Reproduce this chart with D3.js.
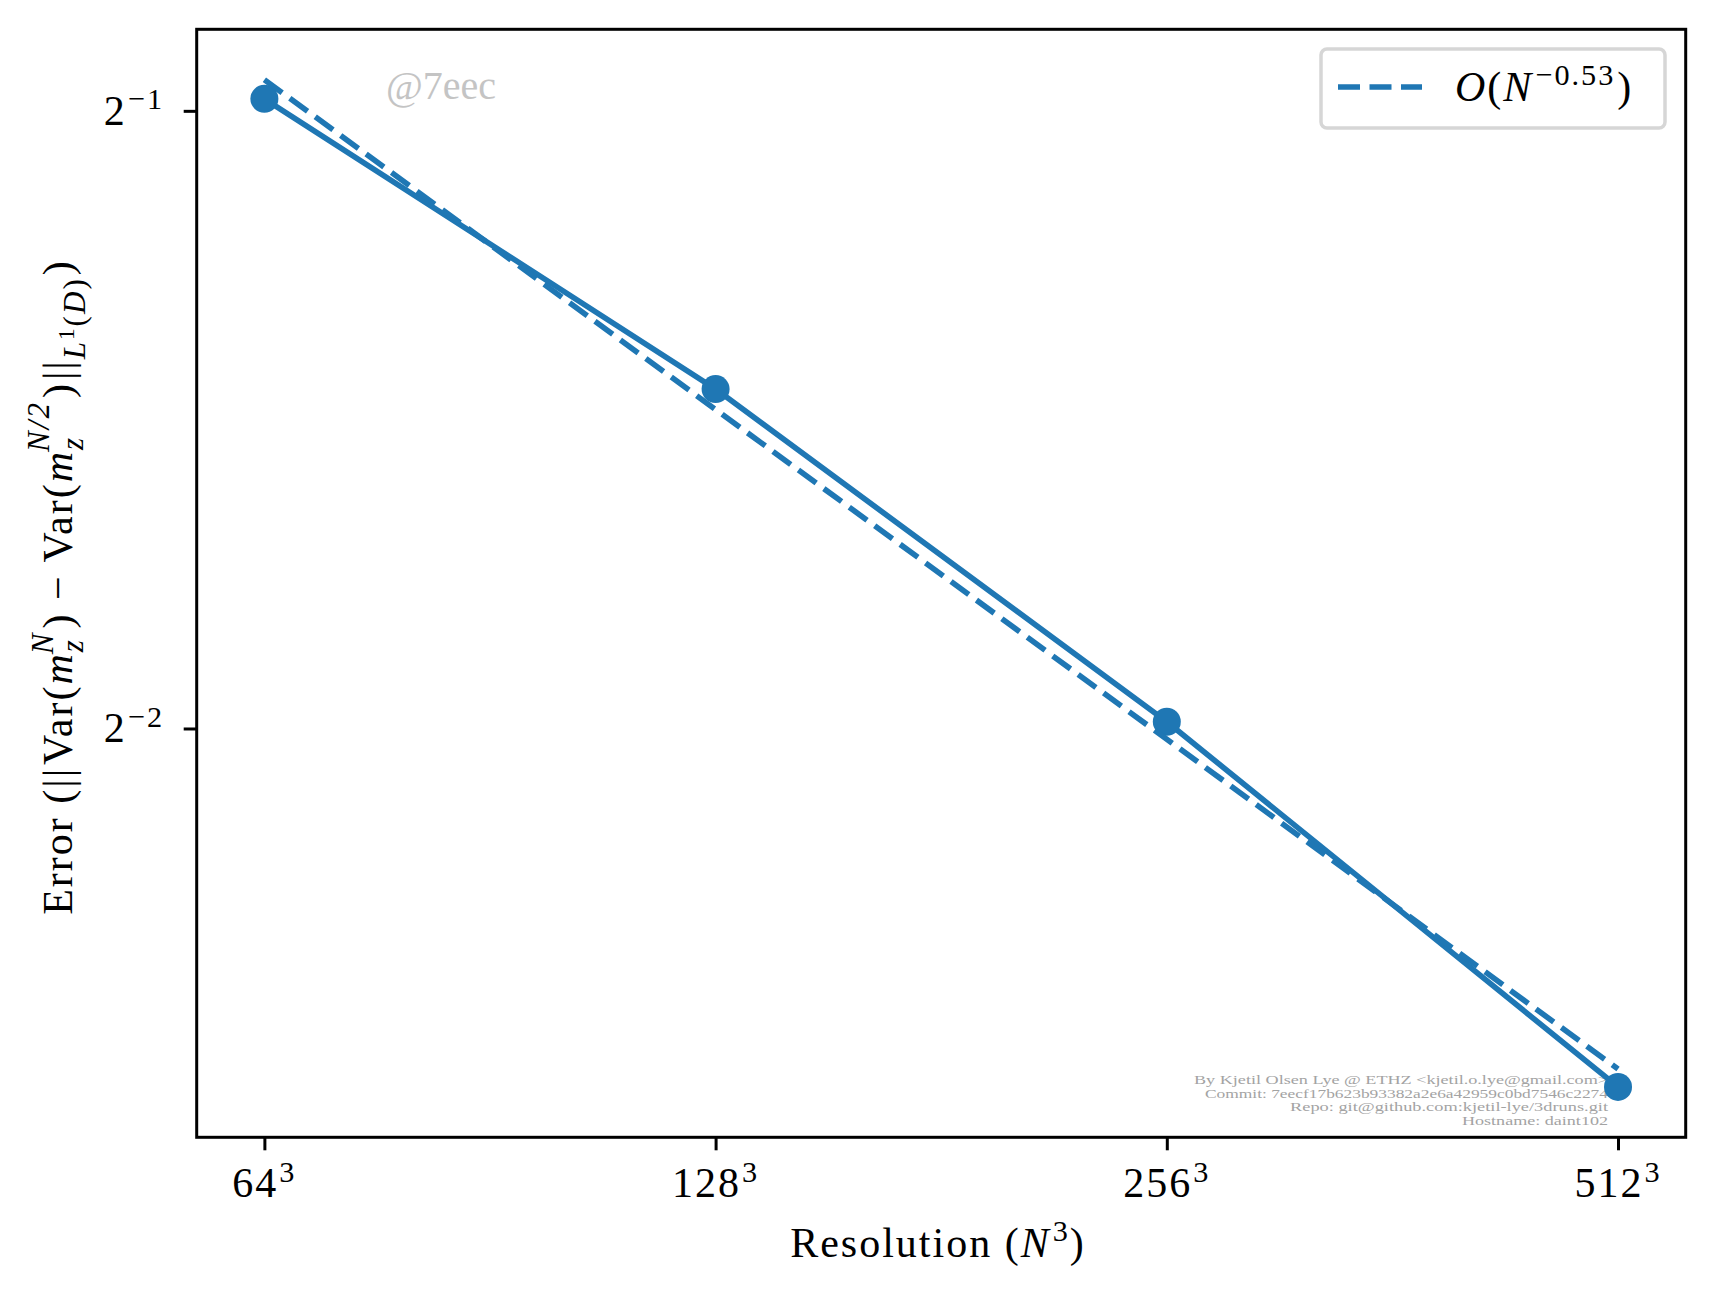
<!doctype html>
<html lang="en">
<head>
  <meta charset="utf-8">
  <title>Convergence of variance</title>
  <script src="https://d3js.org/d3.v7.min.js"></script>
  <style>
    body { margin: 0; background: #fff; }
    svg text { font-family: "Liberation Serif", "DejaVu Serif", serif; }
    svg text.math { letter-spacing: 2px; }
  </style>
</head>
<body>
<div class="chart-container"></div>
<script>
  // values
  const resolutions = [64, 128, 256, 512];
  const resolutionLabels = ['64', '128', '256', '512'];
  const errors = [0.5068, 0.3659, 0.2519, 0.1672];
  const fitValues = [0.5178, 0.3576, 0.2470, 0.1706];
  const yTickValues = [0.5, 0.25];
  const yTickExponents = ['−1', '−2'];
  const fitLabel = '−0.53';
  const creditLines = [
    'By Kjetil Olsen Lye @ ETHZ <kjetil.o.lye@gmail.com>',
    'Commit: 7eecf17b623b93382a2e6a42959c0bd7546c2274',
    'Repo: git@github.com:kjetil-lye/3druns.git',
    'Hostname: daint102'
  ];
  const creditWidths = [414, 403, 318, 146];

  const width = 1715;
  const height = 1295;
  const margin = { top: 29.3, right: 29.3, bottom: 157.7, left: 196.7 };
  const blue = '#1f77b4';
  const fontSize = 42;

  const svg = d3.select('.chart-container').append('svg')
    .attr('width', width)
    .attr('height', height);

  // log2 extents padded by 5% like matplotlib
  const pad = (lo, hi) => {
    const m = (hi - lo) * 0.05;
    return [Math.pow(2, lo - m), Math.pow(2, hi + m)];
  };
  const xLog = d3.extent(resolutions, d => Math.log2(d));
  const yLog = d3.extent(errors.concat(fitValues), d => Math.log2(d));

  const x = d3.scaleLog().base(2)
    .domain(pad(xLog[0], xLog[1]))
    .range([margin.left, width - margin.right]);

  const y = d3.scaleLog().base(2)
    .domain(pad(yLog[0], yLog[1]))
    .range([height - margin.bottom, margin.top]);

  // write a small bit of math as tspans
  const mathText = function (text, parts, base) {
    let cur = 0;
    let prev = null;
    text.classed('math', true);
    parts.forEach(p => {
      const target = (p.rise || 0) * base;
      const ts = text.append('tspan')
        .attr('font-size', base * (p.scale || 1))
        .style('font-style', p.it ? 'italic' : 'normal')
        .attr('dy', -(target - cur))
        .text(p.t);
      if (p.back && prev) ts.attr('dx', -prev.getComputedTextLength() - 2);
      if (p.gap) ts.attr('dx', p.gap);
      cur = target;
      prev = ts.node();
    });
  };

  // credit text (under the lines)
  svg.selectAll('text.credit')
    .data(creditLines)
    .enter()
    .append('text')
    .attr('class', 'credit')
    .attr('x', 1608)
    .attr('y', (d, i) => 1084 + i * 13.5)
    .attr('text-anchor', 'end')
    .attr('font-size', 13)
    .attr('fill', '#a3a3a3')
    .attr('textLength', (d, i) => creditWidths[i])
    .attr('lengthAdjust', 'spacingAndGlyphs')
    .text(d => d);

  // watermark
  svg.append('text')
    .attr('x', 386)
    .attr('y', 99)
    .attr('font-size', 40)
    .attr('fill', '#c4c4c4')
    .text('@7eec');

  // axes
  const xAxis = d3.axisBottom(x)
    .tickValues(resolutions)
    .tickSize(13)
    .tickFormat('');

  const yAxis = d3.axisLeft(y)
    .tickValues(yTickValues)
    .tickSize(13)
    .tickFormat('');

  svg.append('g')
    .attr('class', 'axis xAxis')
    .attr('transform', `translate(0, ${height - margin.bottom})`)
    .call(xAxis)
    .call(g => g.select('.domain').remove())
    .selectAll('.tick line')
    .attr('stroke', '#000')
    .attr('stroke-width', 3);

  svg.append('g')
    .attr('class', 'axis yAxis')
    .attr('transform', `translate(${margin.left}, 0)`)
    .call(yAxis)
    .call(g => g.select('.domain').remove())
    .selectAll('.tick line')
    .attr('stroke', '#000')
    .attr('stroke-width', 3);

  // tick labels with superscripts
  resolutions.forEach((d, i) => {
    const t = svg.append('text')
      .attr('x', x(d))
      .attr('y', height - margin.bottom + 60)
      .attr('text-anchor', 'middle');
    mathText(t, [
      { t: resolutionLabels[i] },
      { t: '3', scale: 0.72, rise: 0.36, gap: 1 }
    ], fontSize);
  });

  yTickValues.forEach((d, i) => {
    const t = svg.append('text')
      .attr('x', 164)
      .attr('y', y(d) + 14)
      .attr('text-anchor', 'end');
    mathText(t, [
      { t: '2' },
      { t: yTickExponents[i], scale: 0.72, rise: 0.38, gap: 1 }
    ], fontSize);
  });

  // axis labels
  const xLabel = svg.append('text')
    .attr('x', 938)
    .attr('y', 1256.7)
    .attr('text-anchor', 'middle');
  mathText(xLabel, [
    { t: 'Resolution (' },
    { t: 'N', it: true },
    { t: '3', scale: 0.72, rise: 0.38, gap: 2 },
    { t: ')', rise: 0 }
  ], fontSize);

  const yLabel = svg.append('text')
    .attr('transform', `translate(72, 587) rotate(-90)`)
    .attr('text-anchor', 'middle');
  mathText(yLabel, [
    { t: 'Error  (||' },
    { t: 'Var(', gap: 2 },
    { t: 'm', it: true },
    { t: 'z', it: true, scale: 0.74, rise: -0.25 },
    { t: 'N', it: true, scale: 0.74, rise: 0.45, back: true },
    { t: ') − Var(', rise: 0, gap: 3 },
    { t: 'm', it: true },
    { t: 'z', it: true, scale: 0.74, rise: -0.25 },
    { t: 'N/2', it: true, scale: 0.74, rise: 0.55, back: true },
    { t: ')', rise: 0, gap: 3 },
    { t: '||', gap: 2 },
    { t: 'L', it: true, scale: 0.74, rise: -0.3 },
    { t: '1', scale: 0.55, rise: -0.05 },
    { t: '(', scale: 0.74, rise: -0.3 },
    { t: 'D', it: true, scale: 0.74, rise: -0.3 },
    { t: ')', scale: 0.74, rise: -0.3 },
    { t: ')', rise: 0, gap: 2 }
  ], fontSize);

  // data line with markers
  const line = d3.line()
    .x(d => x(d[0]))
    .y(d => y(d[1]));

  svg.append('path')
    .datum(d3.zip(resolutions, errors))
    .attr('fill', 'none')
    .attr('stroke', blue)
    .attr('stroke-width', 5.6)
    .attr('stroke-linejoin', 'round')
    .attr('d', line);

  svg.selectAll('circle.point')
    .data(d3.zip(resolutions, errors))
    .enter()
    .append('circle')
    .attr('class', 'point')
    .attr('cx', d => x(d[0]))
    .attr('cy', d => y(d[1]))
    .attr('r', 14)
    .attr('fill', blue);

  // fitted rate, dashed
  svg.append('path')
    .datum(d3.zip(resolutions, fitValues))
    .attr('fill', 'none')
    .attr('stroke', blue)
    .attr('stroke-width', 5.6)
    .attr('stroke-dasharray', '22,9.5')
    .attr('d', line);

  // frame
  svg.append('rect')
    .attr('x', margin.left)
    .attr('y', margin.top)
    .attr('width', width - margin.left - margin.right)
    .attr('height', height - margin.top - margin.bottom)
    .attr('fill', 'none')
    .attr('stroke', '#000')
    .attr('stroke-width', 3);

  // legend
  const legend = svg.append('g').attr('class', 'legend');
  legend.append('rect')
    .attr('x', 1321)
    .attr('y', 49)
    .attr('width', 344)
    .attr('height', 79)
    .attr('rx', 6)
    .attr('fill', '#fff')
    .attr('fill-opacity', 0.8)
    .attr('stroke', '#d6d6d6')
    .attr('stroke-width', 3.5);
  legend.append('line')
    .attr('x1', 1338)
    .attr('x2', 1422)
    .attr('y1', 87)
    .attr('y2', 87)
    .attr('stroke', blue)
    .attr('stroke-width', 5.6)
    .attr('stroke-dasharray', '22,9.5');
  const legendText = legend.append('text')
    .attr('x', 1455)
    .attr('y', 101);
  mathText(legendText, [
    { t: 'O', it: true },
    { t: '(' },
    { t: 'N', it: true },
    { t: fitLabel, scale: 0.72, rise: 0.38, gap: 2 },
    { t: ')', rise: 0, gap: 2 }
  ], fontSize);
</script>
</body>
</html>
